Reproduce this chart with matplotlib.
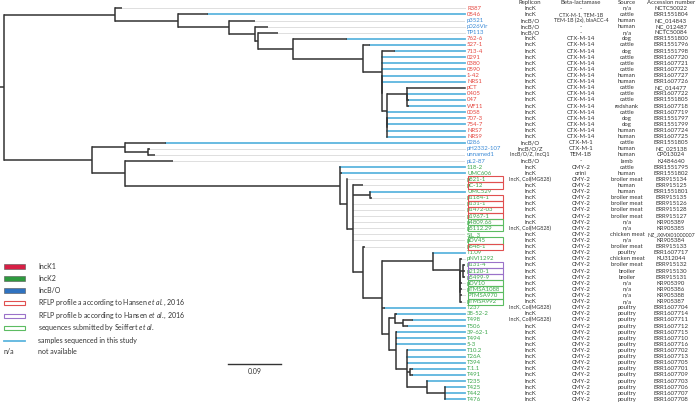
import matplotlib
matplotlib.use("Agg")
import matplotlib.pyplot as plt
from matplotlib.patches import Rectangle

plt.rcParams['font.family'] = ['Lato', 'DejaVu Sans']
plt.rcParams['mathtext.fontset'] = 'custom'
plt.rcParams['mathtext.rm'] = 'Lato'
plt.rcParams['mathtext.it'] = 'Lato:italic'

# ---------------- data ----------------
# tree in Newick format, branch lengths in substitutions per site
newick = (
    "((R387:0.0119,(0546:0.0509,(p3521:0.0442,(p026Vir:0.0221,(TP113:0.0340,"
    "(762-6:0.0917,(527-1:0.0119,(713-4:0.0221,0291:0,0380:0,0590:0,"
    "(1-42:0,NRS1:0,((pCT:0,(0405:0,047:0.0034,WF11:0.0034):0):0.0340,0058:0,"
    "(707-3:0,754-7:0,NRS7:0,NRS9:0):0):0.0085):0):0.0323):0.1189):0.0594):0.0051)"
    ":0.0442):0.0866):0.1070):0.1885,"
    "((0286:0.0696,(pH2332-107:0.0034,unnamed1:0.0119):0.0391):0.0560,"
    "(pL2-87:0.0815,(118-2:0,UMC606:0.0034,(p821-1:0,(pC-12:0.0170,"
    "(UMC529:0,p1184-1:0.0034):0.0289,p131-1:0,p1472-03:0,p1967-1:0,p4809.66:0,"
    "p5112.29:0,SIL_3:0,pDV45:0,(p648-1:0.0034,((T1.09:0,(pNVI1292:0.0034,"
    "((p131-4:0.0034,p2120-1:0.0034,p5499-9:0.0034):0.0051,(pDV10:0.0034,"
    "pTMSA1088:0.0034,PTMSA970:0.0034,pTMSA992:0.0034):0):0):0.0458):0.0866,"
    "T237:0.0051,((38-52-2:0.0034,(T498:0.0170,T506:0.0085):0.0136):0.0102,"
    "(39-62-1:0.0017,T494:0.0017,5-3:0.0017,(T10.2:0.0017,T26A:0,T394:0.0017,"
    "(T.1.1:0.0051,T491:0.0051):0.0051,(T235:0,(T425:0,T442:0,T476:0):0.0306)"
    ":0.0340):0.0187):0.0119):0.0119):0.0323):0.0170):0.0102):0.0119):0.3651)"
    ":0.0560):0.1494):0.0068;"
)

labels = ["R387", "0546", "p3521", "p026Vir", "TP113", "762-6", "527-1", "713-4",
          "0291", "0380", "0590", "1-42", "NRS1", "pCT", "0405", "047", "WF11",
          "0058", "707-3", "754-7", "NRS7", "NRS9", "0286", "pH2332-107",
          "unnamed1", "pL2-87", "118-2", "UMC606", "p821-1", "pC-12", "UMC529",
          "p1184-1", "p131-1", "p1472-03", "p1967-1", "p4809.66", "p5112.29",
          "SIL_3", "pDV45", "p648-1", "T1.09", "pNVI1292", "p131-4", "p2120-1",
          "p5499-9", "pDV10", "pTMSA1088", "PTMSA970", "pTMSA992", "T237",
          "38-52-2", "T498", "T506", "39-62-1", "T494", "5-3", "T10.2", "T26A",
          "T394", "T.1.1", "T491", "T235", "T425", "T442", "T476"]

groups = ["K1", "K1", "BO", "BO", "BO"] + ["K1"] * 17 + ["BO"] * 4 + ["K2"] * 39

replicon = ["IncK", "IncK", "IncB/O", "IncB/O", "IncB/O"] + ["IncK"] * 17 + \
    ["IncB/O", "IncB/O/Z", "IncB/O/Z, IncQ1", "IncB/O", "IncK", "IncK",
     "IncK, Col(MG828)", "IncK", "IncK", "IncK", "IncK", "IncK", "IncK", "IncK",
     "IncK, Col(MG828)", "IncK", "IncK", "IncK", "IncK", "IncK", "IncK", "IncK",
     "IncK", "IncK", "IncK", "IncK", "IncK", "IncK, Col(MG828)", "IncK",
     "IncK, Col(MG828)"] + ["IncK"] * 14

betalac = ["-", "CTX-M-1, TEM-1B", "TEM-1B (2x), blaACC-4", "-", "-"] + \
    ["CTX-M-14"] * 17 + ["CTX-M-1", "CTX-M-1", "TEM-1B", "-", "CMY-2", "orini"] + \
    ["CMY-2"] * 37

source = ["n/a", "cattle", "human", "human", "n/a", "dog", "cattle", "dog",
          "cattle", "cattle", "cattle", "human", "human", "cattle", "cattle",
          "cattle", "redshank", "cattle", "dog", "dog", "human", "human",
          "cattle", "human", "human", "lamb", "cattle", "human", "broiler meat",
          "human", "human", "broiler meat", "broiler meat", "broiler meat",
          "broiler meat", "n/a", "n/a", "chicken meat", "n/a", "broiler meat",
          "poultry", "chicken meat", "broiler meat", "broiler", "broiler", "n/a",
          "n/a", "n/a", "n/a"] + ["poultry"] * 16

accession = ["NCTC50022", "ERR1551804", "NC_014843", "NC_012487", "NCTC50084",
             "ERR1551800", "ERR1551796", "ERR1551798", "ERR1607720", "ERR1607721",
             "ERR1607723", "ERR1607727", "ERR1607726", "NC_014477", "ERR1607722",
             "ERR1551805", "ERR1607718", "ERR1607719", "ERR1551797", "ERR1551799",
             "ERR1607724", "ERR1607725", "ERR1551805", "NC_025138", "CP013024",
             "KJ484640", "ERR1551795", "ERR1551802", "ERR915134", "ERR915125",
             "ERR1551801", "ERR915135", "ERR915126", "ERR915128", "ERR915127",
             "KR905389", "KR905385", "NZ_JXMX01000007", "KR905384", "ERR915133",
             "ERR1607717", "KU312044", "ERR915132", "ERR915130", "ERR915131",
             "KR905390", "KR905386", "KR905388", "KR905387", "ERR1607704",
             "ERR1607714", "ERR1607711", "ERR1607712", "ERR1607715", "ERR1607710",
             "ERR1607716", "ERR1607702", "ERR1607713", "ERR1607705", "ERR1607701",
             "ERR1607709", "ERR1607703", "ERR1607706", "ERR1607707", "ERR1607708"]

# RFLP / submission boxes: a = Hansen profile a, b = Hansen profile b, s = Seiffert
boxes = {"p821-1": "a", "pC-12": "a", "p1184-1": "a", "p131-1": "a",
         "p1472-03": "a", "p1967-1": "a", "p648-1": "a",
         "p4809.66": "s", "p5112.29": "s", "pDV45": "s", "pDV10": "s",
         "pTMSA1088": "s", "PTMSA970": "s", "pTMSA992": "s",
         "p131-4": "b", "p2120-1": "b", "p5499-9": "b"}
reference_black = ["pCT"]

headers = ["Replicon", "Beta-lactamase", "Source", "Accession number"]

legend_items = ["IncK1", "IncK2", "IncB/O",
                r"RFLP profile a according to Hansen $\it{et\ al.}$, 2016",
                r"RFLP profile b according to Hansen $\it{et\ al.}$, 2016",
                r"sequences submitted by Seiffert $\it{et\ al.}$",
                "samples sequenced in this study", "not available"]
scale_value = 0.09

# ---------------- styles ----------------
group_text = {"K1": "#e5463f", "K2": "#3aa64a", "BO": "#3b8ad6"}
group_fill = {"K1": "#d71f45", "K2": "#2e9a3e", "BO": "#2f72c0"}
box_col = {"a": "#e05050", "b": "#9b72c9", "s": "#5cbc62"}
study_blue = "#5db5de"
tree_col = "#333333"
text_col = "#333333"

# ---------------- newick parser ----------------
def parse(s):
    s = s.strip().rstrip(";")
    pos = 0

    def node():
        nonlocal pos
        n = {"children": [], "name": "", "len": 0.0}
        if s[pos] == "(":
            pos += 1
            while True:
                n["children"].append(node())
                if s[pos] == ",":
                    pos += 1
                    continue
                if s[pos] == ")":
                    pos += 1
                    break
        start = pos
        while pos < len(s) and s[pos] not in ":,()":
            pos += 1
        n["name"] = s[start:pos]
        if pos < len(s) and s[pos] == ":":
            pos += 1
            start = pos
            while pos < len(s) and s[pos] not in ",()":
                pos += 1
            n["len"] = float(s[start:pos])
        return n

    return node()


tree = parse(newick)

W, H = 696, 403
fig = plt.figure(figsize=(W / 100, H / 100), dpi=100)
ax = fig.add_axes([0, 0, 1, 1])
ax.set_xlim(0, W)
ax.set_ylim(H, 0)
ax.axis("off")

px_per_unit = 53 / scale_value
row0, row_step = 8.3, 6.11
leader_end = 465
row_y = {lab: row0 + i * row_step for i, lab in enumerate(labels)}
leaf_order = []


def layout(n, x_parent):
    x = x_parent + n["len"] * px_per_unit
    n["x"] = x
    if not n["children"]:
        leaf_order.append(n["name"])
        n["y"] = row_y[n["name"]]
    else:
        for c in n["children"]:
            layout(c, x)
        n["y"] = (n["children"][0]["y"] + n["children"][-1]["y"]) / 2
    return n


layout(tree, 0)
assert leaf_order == labels, leaf_order

lw = 1.1


def draw(n, x_parent):
    ax.plot([x_parent, n["x"]], [n["y"], n["y"]], color=tree_col, lw=lw,
            solid_capstyle="butt", zorder=3)
    if n["children"]:
        ax.plot([n["x"], n["x"]], [n["children"][0]["y"], n["children"][-1]["y"]],
                color=tree_col, lw=lw, solid_capstyle="projecting", zorder=3)
        for c in n["children"]:
            draw(c, n["x"])
    else:
        i = labels.index(n["name"])
        acc = accession[i]
        if n["name"] in reference_black:
            ax.plot([n["x"], leader_end], [n["y"]] * 2, color=tree_col, lw=lw, zorder=3)
        elif acc.startswith("ERR155") or acc.startswith("ERR160"):
            ax.plot([n["x"], leader_end], [n["y"]] * 2, color=study_blue, lw=1.3, zorder=2)
        else:
            ax.plot([n["x"], leader_end], [n["y"]] * 2, color="#b5b5b5", lw=0.6,
                    ls=(0, (1.2, 1.2)), zorder=1)


draw(tree, 0)

# ---------------- labels and table ----------------
fs = 4.3
col_x = [530, 581, 627, 671]
for i, lab in enumerate(labels):
    y = row_y[lab]
    ax.text(467, y, lab, color=group_text[groups[i]], fontsize=fs, va="center", ha="left")
    for cx, val in zip(col_x, [replicon[i], betalac[i], source[i], accession[i]]):
        size = fs if len(val) < 13 else fs * 0.88
        ax.text(cx, y, val, color=text_col, fontsize=size, va="center", ha="center")
    if lab in boxes:
        ax.add_patch(Rectangle((467.5, y - row_step / 2), 35, row_step, fill=False,
                               ec=box_col[boxes[lab]], lw=0.8, zorder=4))
for cx, h in zip(col_x, headers):
    ax.text(cx, 2.8, h, color=text_col, fontsize=fs, va="center", ha="center")

# ---------------- legend ----------------
leg_y = [266.5, 278.5, 290.5, 303, 315.5, 327.5, 340.5, 352]
lfs = 5.0
for k, (g) in enumerate(["K1", "K2", "BO"]):
    ax.add_patch(Rectangle((4, leg_y[k] - 2.3), 20.5, 4.6, fc=group_fill[g],
                           ec="#555555", lw=0.4))
for k, b in zip([3, 4, 5], ["a", "b", "s"]):
    ax.add_patch(Rectangle((4, leg_y[k] - 2.0), 20.5, 4.0, fill=False,
                           ec=box_col[b], lw=0.8))
ax.plot([4, 24.5], [leg_y[6]] * 2, color=study_blue, lw=1.3)
ax.text(4, leg_y[7], "n/a", color=text_col, fontsize=lfs, va="center", ha="left")
for k, t in enumerate(legend_items):
    ax.text(38, leg_y[k], t, color=text_col, fontsize=lfs, va="center", ha="left")

# ---------------- scale bar ----------------
sx0 = 228
ax.plot([sx0, sx0 + scale_value * px_per_unit], [364, 364], color=tree_col, lw=1.0)
ax.text(sx0 + scale_value * px_per_unit / 2, 372, f"{scale_value:.2f}",
        color=text_col, fontsize=lfs, ha="center", va="center")

fig.savefig("out.png", dpi=100)
